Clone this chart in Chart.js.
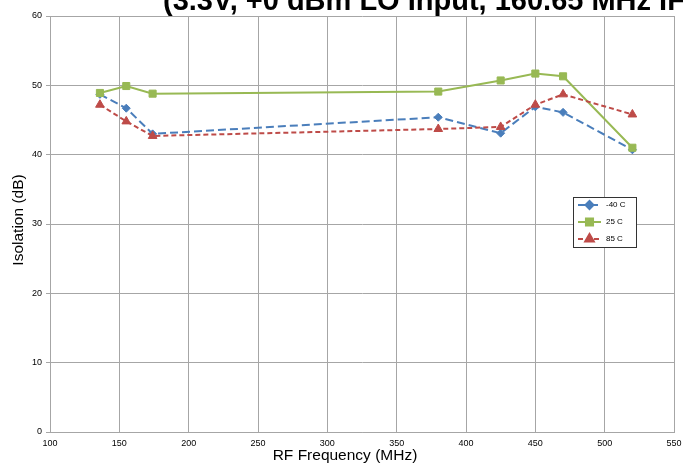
<!DOCTYPE html>
<html><head><meta charset="utf-8">
<script src="https://cdn.jsdelivr.net/npm/chart.js@4/dist/chart.umd.min.js"></script>
<style>html,body{margin:0;padding:0;background:#fff}#wrap{width:683px;height:464px}</style>
</head><body><div id="wrap"><canvas id="c" width="683" height="464"></canvas></div>
<script>
const titleText = "(3.3V, +0 dBm LO Input, 160.65 MHz IF)";
const freqs = [136, 155, 174, 380, 425, 450, 470, 520];
const seriesNames = ["-40 C", "25 C", "85 C"];
const isoM40 = [48.7, 46.7, 43.0, 45.4, 43.1, 46.9, 46.1, 40.7];
const iso25 = [48.9, 49.9, 48.8, 49.1, 50.7, 51.7, 51.3, 41.0];
const iso85 = [47.2, 44.8, 42.7, 43.7, 44.0, 47.2, 48.7, 45.8];
const xTicks = [100,150,200,250,300,350,400,450,500,550];
const yTicks = [0,10,20,30,40,50,60];

const FONT = "'Liberation Sans', Arial, sans-serif";
const pts = v => freqs.map((f,i)=>({x:f,y:v[i]}));
const gridCol = '#a6a6a6';

const overlay = {
  id:'overlay',
  afterDraw(chart){
    const ctx = chart.ctx;
    ctx.save();
    // cut-off title
    ctx.fillStyle = '#000';
    ctx.font = "bold 29px " + FONT;
    ctx.textAlign = 'left'; ctx.textBaseline = 'alphabetic';
    ctx.fillText(titleText, 163, 10);
    // axis titles
    ctx.font = "15.5px " + FONT;
    ctx.textAlign = 'center'; ctx.textBaseline = 'middle';
    ctx.fillText("RF Frequency (MHz)", 345, 456);
    ctx.save();
    ctx.translate(19, 220); ctx.rotate(-Math.PI/2);
    ctx.fillText("Isolation (dB)", 0, 0);
    ctx.restore();
    // legend
    ctx.fillStyle = '#fff';
    ctx.fillRect(573.5, 197.5, 63, 50);
    ctx.strokeStyle = '#333'; ctx.lineWidth = 1;
    ctx.strokeRect(573.5, 197.5, 63, 50);
    const ys = [205, 222, 239];
    chart.data.datasets.forEach((ds,i)=>{
      const y = ys[i];
      ctx.strokeStyle = ds.borderColor; ctx.lineWidth = 2;
      ctx.setLineDash(ds.borderDash || []);
      ctx.beginPath(); ctx.moveTo(578, y); ctx.lineTo(601, y); ctx.stroke();
      ctx.setLineDash([]);
      Chart.helpers.drawPoint(ctx, {pointStyle: ds.pointStyle, radius: ds.pointRadius, rotation:0, borderWidth:1}, 589.5, y);
      ctx.fillStyle = ds.backgroundColor;
      ctx.fill();
      ctx.fillStyle = '#000';
      ctx.font = "8px " + FONT;
      ctx.textAlign = 'left'; ctx.textBaseline = 'middle';
      ctx.fillText(ds.label, 606, y);
    });
    ctx.restore();
  }
};

new Chart(document.getElementById('c'), {
  type: 'scatter',
  data: {
    datasets: [
      {label: seriesNames[0], data: pts(isoM40), showLine:true, borderColor:'#4a7ebb', backgroundColor:'#4a7ebb',
       borderWidth:2, borderDash:[8,4], pointStyle:'rectRot', pointRadius:4, pointBorderWidth:1, order:3},
      {label: seriesNames[1], data: pts(iso25), showLine:true, borderColor:'#98b954', backgroundColor:'#98b954',
       borderWidth:2, pointStyle:'rect', pointRadius:5, pointBorderWidth:1, order:2},
      {label: seriesNames[2], data: pts(iso85), showLine:true, borderColor:'#be4b48', backgroundColor:'#be4b48',
       borderWidth:2, borderDash:[5,3], pointStyle:'triangle', pointRadius:5, pointBorderWidth:1, order:1}
    ]
  },
  options: {
    responsive:false, animation:false, devicePixelRatio:1,
    layout:{padding:{left:0, top:16, right:9, bottom:0}},
    plugins:{legend:{display:false}, tooltip:{enabled:false}},
    scales:{
      x:{type:'linear', min:100, max:550,
         afterBuildTicks(s){ s.ticks = xTicks.map(v=>({value:v})); },
         afterFit(s){ s.height = 32; s.paddingLeft = 0; s.paddingRight = 0; },
         grid:{color:gridCol, lineWidth:1, tickLength:0, drawTicks:false},
         border:{color:gridCol, width:1},
         ticks:{font:{family:FONT, size:9}, color:'#000', padding:6, maxRotation:0, autoSkip:false}},
      y:{min:0, max:60,
         afterBuildTicks(s){ s.ticks = yTicks.map(v=>({value:v})); },
         afterFit(s){ s.width = 50; s.paddingTop = 0; s.paddingBottom = 0; },
         grid:{color:gridCol, lineWidth:1, tickLength:4},
         border:{color:gridCol, width:1},
         ticks:{font:{family:FONT, size:9}, color:'#000', padding:4}}
    }
  },
  plugins:[overlay]
});
</script></body></html>
